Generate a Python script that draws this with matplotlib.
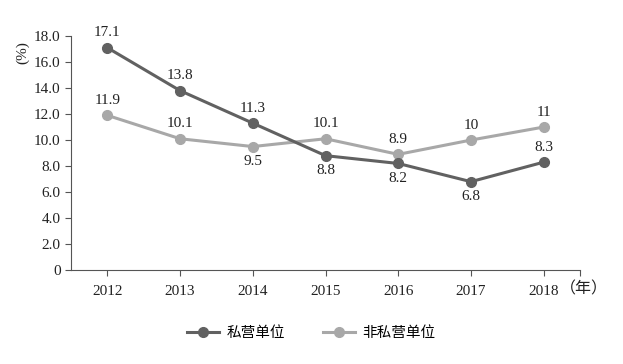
import numpy as np
import matplotlib.pyplot as plt

plt.rcParams['font.family'] = ['Liberation Serif', 'Noto Sans CJK SC']

years = [2012, 2013, 2014, 2015, 2016, 2017, 2018]
private = [17.1, 13.8, 11.3, 8.8, 8.2, 6.8, 8.3]
non_private = [11.9, 10.1, 9.5, 10.1, 8.9, 10, 11]
private_lbl = ["17.1", "13.8", "11.3", "8.8", "8.2", "6.8", "8.3"]
non_private_lbl = ["11.9", "10.1", "9.5", "10.1", "8.9", "10", "11"]
# label above (1) or below (-1) the point
private_pos = [1, 1, 1, -1, -1, -1, 1]
non_private_pos = [1, 1, -1, 1, 1, 1, 1]

dark = "#616161"
light = "#a8a8a8"

fig = plt.figure(figsize=(6.23, 3.64), dpi=100)
ax = fig.add_axes([0.114, 0.258, 0.817, 0.643])

ax.plot(years, non_private, color=light, lw=2.2, marker="o", ms=7, label="非私营单位", zorder=2)
ax.plot(years, private, color=dark, lw=2.2, marker="o", ms=7, label="私营单位", zorder=3)

for x, y, s, p in zip(years, private, private_lbl, private_pos):
    ax.annotate(s, (x, y), xytext=(0, 6 * p), textcoords="offset points",
                ha="center", va="bottom" if p > 0 else "top", fontsize=11, color="#222222")
for x, y, s, p in zip(years, non_private, non_private_lbl, non_private_pos):
    ax.annotate(s, (x, y), xytext=(0, 6 * p), textcoords="offset points",
                ha="center", va="bottom" if p > 0 else "top", fontsize=11, color="#222222")

ax.set_xlim(2011.5, 2018.5)
ax.set_ylim(0, 18)
ax.set_yticks(np.arange(0, 18.1, 2))
ax.set_yticklabels(["0"] + [f"{v:.1f}" for v in np.arange(2, 18.1, 2)])
ax.set_xticks(years)
ax.set_xticklabels([str(y) for y in years])
ax.set_xticks([2018.5], minor=True)
ax.tick_params(axis="both", labelsize=11, colors="#555555", labelcolor="#222222", length=4, width=0.8)
ax.tick_params(axis="x", which="minor", length=4, width=0.8, colors="#555555")
ax.tick_params(axis="x", pad=7)

for side in ["top", "right"]:
    ax.spines[side].set_visible(False)
for side in ["left", "bottom"]:
    ax.spines[side].set_color("#555555")
    ax.spines[side].set_linewidth(0.8)

fig.text(0.037, 0.855, "(%)", ha="center", va="center", fontsize=11, color="#222222",
         rotation=90)
fig.text(0.898, 0.206, "（年）", ha="left", va="center", fontsize=11.5, color="#222222",
         family=["Noto Sans CJK SC"])

handles, labels = ax.get_legend_handles_labels()
fig.legend(handles[::-1], labels[::-1], loc="center", bbox_to_anchor=(0.5, 0.085), ncol=2,
           frameon=False, prop={"family": "Noto Sans CJK SC", "size": 10.5},
           handlelength=2.2, columnspacing=2.6, handletextpad=0.5)

fig.savefig("out.png", dpi=100)
